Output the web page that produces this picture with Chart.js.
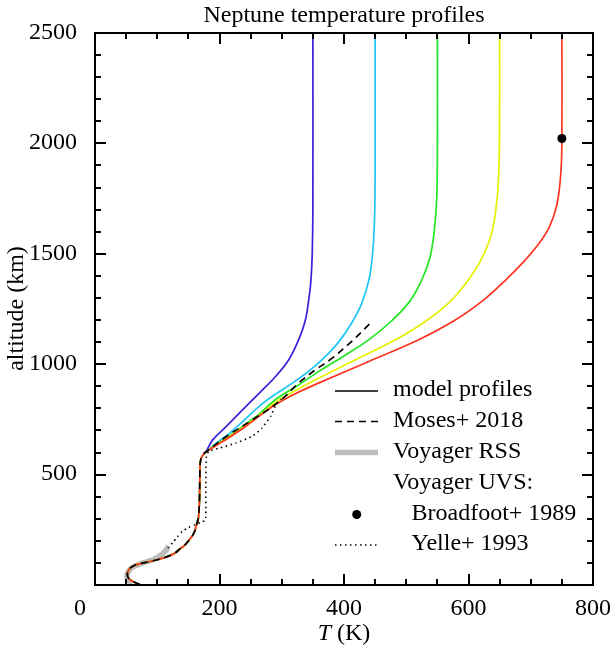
<!DOCTYPE html>
<html><head><meta charset="utf-8">
<script src="https://cdn.jsdelivr.net/npm/chart.js@4.4.0/dist/chart.umd.min.js"></script>
<style>html,body{margin:0;padding:0;background:#fff}#wrap{width:613px;height:652px;position:relative}</style>
</head><body><div id="wrap"><canvas id="c"></canvas></div>
<script>
// ---- data (T in K, altitude in km) ----
const lowerT   = [72, 65, 58, 53, 52, 53, 57, 63, 72, 85, 100, 115, 128, 136, 145, 155, 160, 163, 166, 167, 168, 168.5, 169, 171, 175, 178];
const lowerAlt = [0, 8, 18, 32, 45, 60, 75, 86, 94, 102, 112, 125, 142, 160, 181, 215, 240, 270, 300, 330, 400, 500, 550, 575, 592, 600];

const redT    = [195, 215, 240, 265, 290, 320, 359, 440, 519, 580, 625, 660, 688, 712, 730, 742, 748, 750, 750];
const redAlt  = [630, 665, 712, 765, 815, 862, 912, 1010, 1107, 1200, 1290, 1380, 1460, 1540, 1620, 1720, 1850, 2000, 2500];
const yelT    = [195, 215, 240, 265, 290, 320, 359, 420, 482, 530, 570, 600, 622, 638, 646, 649, 650, 650];
const yelAlt  = [632, 668, 716, 768, 825, 875, 934, 1020, 1107, 1190, 1280, 1380, 1480, 1600, 1750, 1900, 2100, 2500];
const grnT    = [195, 215, 240, 265, 290, 325, 359, 400, 439, 475, 505, 525, 538, 545, 549, 550, 550];
const grnAlt  = [635, 672, 722, 775, 838, 900, 964, 1035, 1107, 1190, 1280, 1380, 1480, 1600, 1750, 1950, 2500];
const cyanT   = [195, 215, 240, 265, 290, 317, 345, 370, 392, 412, 428, 440, 446, 449, 450, 450];
const cyanAlt = [640, 682, 745, 810, 862, 912, 970, 1032, 1100, 1183, 1270, 1379, 1500, 1650, 1850, 2500];
const blueT   = [189, 211, 237, 264, 290, 311, 327, 338, 344, 347, 349, 350, 350];
const blueAlt = [655, 716, 791, 867, 942, 1017, 1108, 1198, 1303, 1380, 1500, 1700, 2500];

const mosesT   = [211, 253, 296, 327, 354, 381, 412, 441];
const mosesAlt = [670, 746, 829, 912, 972, 1025, 1100, 1180];

const rssT   = [60, 55, 52, 51, 54, 60, 70, 83, 95, 107, 114, 118];
const rssAlt = [5, 15, 27, 40, 60, 78, 90, 103, 115, 136, 155, 175];

const yelleT   = [117, 125, 132, 140, 150, 160, 170, 177, 178, 178, 179, 183, 200, 226, 252, 268, 282, 292, 300];
const yelleAlt = [165, 190, 215, 240, 258, 270, 282, 290, 300, 450, 580, 603, 618, 641, 670, 708, 761, 821, 840];

const broadT = [750];
const broadAlt = [2020];

const legendLabels = ['model profiles', 'Moses+ 2018', 'Voyager RSS', 'Voyager UVS:', 'Broadfoot+ 1989', 'Yelle+ 1993'];
const xTicksMajor = [0, 200, 400, 600, 800];
const yTicksMajor = [500, 1000, 1500, 2000, 2500];
const xMinorTicks = [50, 100, 150, 200, 250, 300, 350, 400, 450, 500, 550, 600, 650, 700, 750];
const yMinorTicks = [100, 200, 300, 400, 500, 600, 700, 800, 900, 1000, 1100, 1200, 1300, 1400, 1500,
                     1600, 1700, 1800, 1900, 2000, 2100, 2200, 2300, 2400];

// ---- build ----
function pts(T, A) { return T.map((t, i) => ({x: t, y: A[i]})); }
const lower = pts(lowerT, lowerAlt);
const withLower = (T, A) => lower.concat(pts(T, A));
const SERIF = "'Liberation Serif', 'Times New Roman', serif";

const line = (label, data, color, order, extra) => Object.assign({
  label, data, borderColor: color, backgroundColor: color, borderWidth: 1.7,
  pointRadius: 0, fill: false, tension: 0.35, order
}, extra || {});

const datasets = [
  line('Yelle+ 1993', pts(yelleT, yelleAlt), '#000', 0, {borderDash: [1.5, 3.5], borderWidth: 1.6, tension: 0.2}),
  {label: 'Broadfoot+ 1989', data: pts(broadT, broadAlt), showLine: false, pointRadius: 4.5,
   pointBackgroundColor: '#000', pointBorderColor: '#000', pointBorderWidth: 0, order: 0},
  line('Moses+ 2018', withLower(mosesT, mosesAlt), '#000', 1, {borderDash: [7, 5]}),
  line('model 750', withLower(redT, redAlt), '#ff3320', 2),
  line('model 650', withLower(yelT, yelAlt), '#e6f000', 3),
  line('model 550', withLower(grnT, grnAlt), '#22e622', 4),
  line('model 450', withLower(cyanT, cyanAlt), '#1ec6f5', 5),
  line('model 350', withLower(blueT, blueAlt), '#3d1fdc', 6),
  line('Voyager RSS', pts(rssT, rssAlt), '#bdbdbd', 7, {borderWidth: 5.5})
];

const decor = {
  id: 'decor',
  afterDraw(chart) {
    const ctx = chart.ctx;
    const a = chart.chartArea;
    const xs = chart.scales.x, ys = chart.scales.y;
    const L = Math.round(a.left), R = Math.round(a.right), TP = Math.round(a.top), B = Math.round(a.bottom);
    const xpx = (v) => Math.round(L + (v - xs.min) / (xs.max - xs.min) * (R - L));
    const ypx = (v) => Math.round(B - (v - ys.min) / (ys.max - ys.min) * (B - TP));
    ctx.save();
    ctx.setLineDash([]);
    ctx.strokeStyle = '#000000';
    ctx.fillStyle = '#000000';
    ctx.lineWidth = 2;
    ctx.strokeRect(L, TP, R - L, B - TP);
    // tick marks drawn as filled rectangles, inward on all four sides
    xMinorTicks.forEach((v) => {
      const px = xpx(v);
      const len = xTicksMajor.includes(v) ? 11 : 6;
      ctx.fillRect(px - 1, B - len, 2, len);
      ctx.fillRect(px - 1, TP, 2, len);
    });
    yMinorTicks.forEach((v) => {
      const py = ypx(v);
      const len = yTicksMajor.includes(v) ? 11 : 6;
      ctx.fillRect(L, py - 1, len, 2);
      ctx.fillRect(R - len, py - 1, len, 2);
    });
    const seg = (x1, y1, x2, y2) => { ctx.beginPath(); ctx.moveTo(x1, y1); ctx.lineTo(x2, y2); ctx.stroke(); };

    // x-axis title with italic T
    const parts = ['T', ' (K)'];
    ctx.textBaseline = 'middle';
    ctx.font = 'italic 24px ' + SERIF;
    const w0 = ctx.measureText(parts[0]).width;
    ctx.font = '24px ' + SERIF;
    const w1 = ctx.measureText(parts[1]).width;
    const cx = (a.left + a.right) / 2;
    const sx = cx - (w0 + w1) / 2;
    const ty = 634;
    ctx.textAlign = 'left';
    ctx.font = 'italic 24px ' + SERIF;
    ctx.fillText(parts[0], sx, ty);
    ctx.font = '24px ' + SERIF;
    ctx.fillText(parts[1], sx + w0, ty);

    // legend
    const rows = [391, 421.5, 452.5, 483.5, 514.5, 545];
    const sx1 = 335, sx2 = 378;
    ctx.lineWidth = 1.7;
    seg(sx1, rows[0], sx2, rows[0]);
    ctx.setLineDash([7, 5]);
    seg(sx1, rows[1], sx2, rows[1]);
    ctx.setLineDash([]);
    ctx.strokeStyle = '#bdbdbd'; ctx.lineWidth = 5.5;
    seg(sx1, rows[2], sx2, rows[2]);
    ctx.strokeStyle = '#000'; ctx.lineWidth = 1.6;
    ctx.beginPath(); ctx.arc(356.7, rows[4], 4.5, 0, Math.PI * 2); ctx.fill();
    ctx.setLineDash([1.5, 3.5]);
    seg(sx1, rows[5], sx2, rows[5]);
    ctx.setLineDash([]);
    ctx.font = '24px ' + SERIF;
    legendLabels.forEach((t, i) => {
      const tx = i >= 4 ? 411.5 : 393;
      ctx.fillText(t, tx, rows[i] - 1);
    });
    ctx.restore();
  }
};

Chart.defaults.color = '#000';
Chart.defaults.font.family = SERIF;
new Chart(document.getElementById('c'), {
  type: 'line',
  data: {datasets},
  options: {
    indexAxis: 'y',
    animation: false,
    responsive: true,
    maintainAspectRatio: false,
    layout: {padding: {left: 0, right: 17, top: 0, bottom: 0}},
    plugins: {
      legend: {display: false},
      tooltip: {enabled: false},
      title: {display: true, text: 'Neptune temperature profiles', fullSize: false,
              font: {size: 24, weight: 'normal', family: SERIF}, color: '#000',
              padding: {top: 1, bottom: 2.7}}
    },
    scales: {
      x: {
        type: 'linear', position: 'bottom', min: 0, max: 800,
        grid: {display: false}, border: {display: false},
        title: {display: false, text: 'T (K)'},
        afterBuildTicks: (s) => { s.ticks = xTicksMajor.map(v => ({value: v})); },
        ticks: {font: {size: 24, family: SERIF}, color: '#000', padding: 2, maxRotation: 0,
                callback: (v) => v === 0 ? '0     ' : String(v)},
        afterFit: (s) => { s.height = 67.5; }
      },
      y: {
        type: 'linear', position: 'left', min: 0, max: 2500,
        grid: {display: false}, border: {display: false},
        title: {display: true, text: 'altitude (km)', font: {size: 24, family: SERIF}, color: '#000',
                padding: {top: 2, bottom: 0}},
        afterBuildTicks: (s) => { s.ticks = yTicksMajor.map(v => ({value: v})); },
        ticks: {font: {size: 24, family: SERIF}, color: '#000', padding: 10,
                callback: (v) => String(v)},
        afterFit: (s) => { s.width = 95; }
      }
    }
  },
  plugins: [decor]
});
</script>
</body></html>
